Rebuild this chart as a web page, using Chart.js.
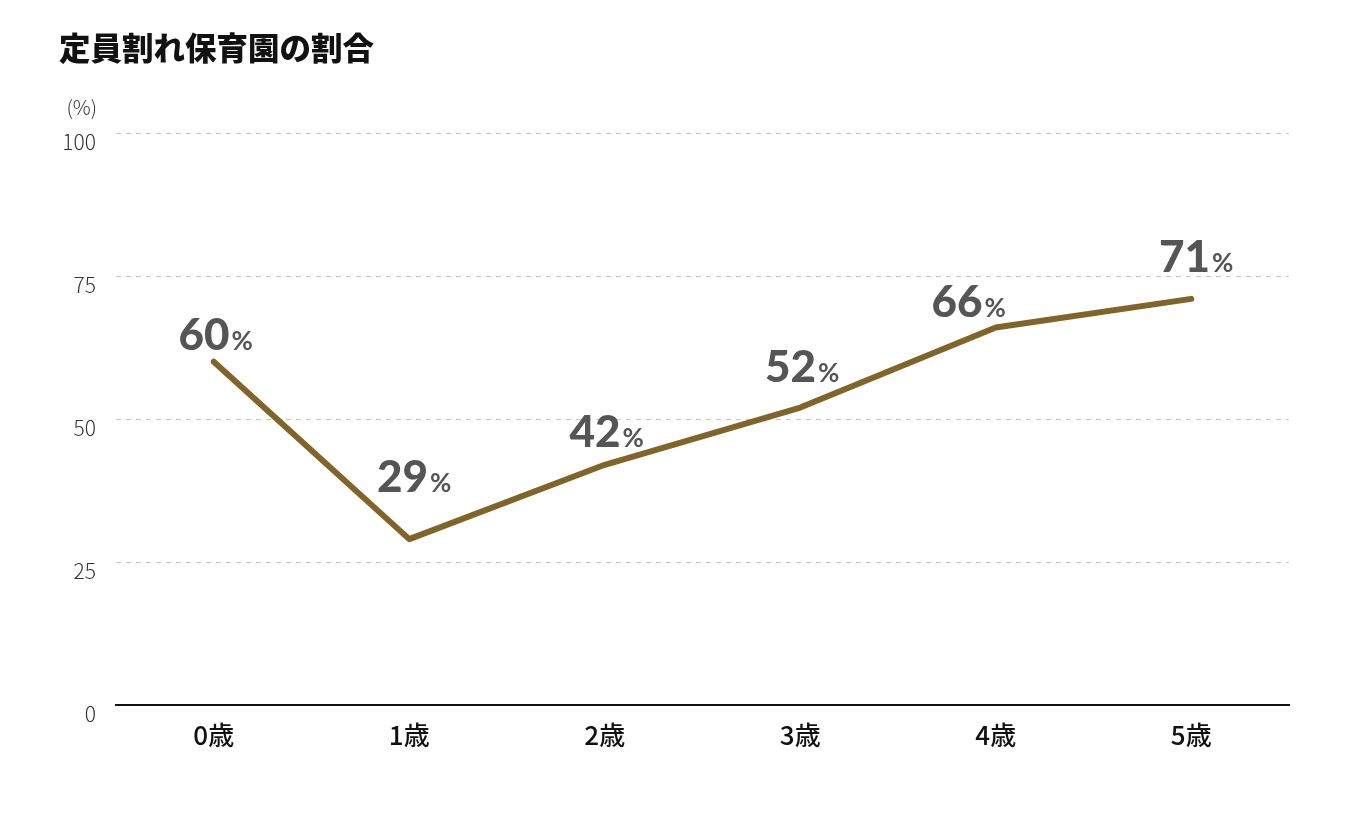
<!DOCTYPE html>
<html lang="ja">
<head>
<meta charset="utf-8">
<script src="https://cdn.jsdelivr.net/npm/chart.js@4"></script>
<style>
  html, body { margin: 0; padding: 0; background: #fff; }
  #wrap { width: 1351px; height: 818px; position: relative; }
</style>
</head>
<body>
<div id="wrap"><canvas id="chart"></canvas></div>
<script>
const title = "定員割れ保育園の割合";
const unitLabel = "(%)";
const ages = ["0歳", "1歳", "2歳", "3歳", "4歳", "5歳"];
const shares = [60, 29, 42, 52, 66, 71];
const yTicks = [0, 25, 50, 75, 100];

// label nudges (px) so the numbers sit where the original has them
const labelDx = [2, 5, 2, 2, -27, 5];
const labelDy = [-12, -47, -18, -26, -10, -27];

const lineColor = "#80642a";

const headerPlugin = {
  id: "header",
  afterDraw(chart) {
    const ctx = chart.ctx;
    const y = chart.scales.y;
    ctx.save();
    ctx.fillStyle = "#111";
    ctx.font = "900 31.5px 'Noto Sans CJK JP'";
    ctx.textAlign = "left";
    ctx.textBaseline = "middle";
    ctx.fillText(title, 59, 48);

    ctx.fillStyle = "#333";
    ctx.font = "300 20px 'Noto Sans CJK JP'";
    ctx.textAlign = "right";
    ctx.fillText(unitLabel, y.right - 19, 107);
    ctx.restore();
  }
};

const valueLabels = {
  id: "valueLabels",
  afterDatasetsDraw(chart) {
    const ctx = chart.ctx;
    const meta = chart.getDatasetMeta(0);
    ctx.save();
    ctx.fillStyle = "#555";
    ctx.textBaseline = "alphabetic";
    ctx.textAlign = "left";
    meta.data.forEach((pt, i) => {
      const num = String(shares[i]);
      ctx.font = "900 44px Lato";
      const wNum = ctx.measureText(num).width;
      ctx.font = "700 26px Lato";
      const wPct = ctx.measureText("%").width;
      const x0 = pt.x + labelDx[i] - (wNum + wPct + 2) / 2;
      const by = pt.y + labelDy[i];
      ctx.font = "900 44px Lato";
      ctx.fillText(num, x0, by);
      ctx.font = "700 26px Lato";
      ctx.fillText("%", x0 + wNum + 2, by);
    });
    ctx.restore();
  }
};

new Chart(document.getElementById("chart"), {
  type: "line",
  data: {
    labels: ages,
    datasets: [{
      data: shares,
      borderColor: lineColor,
      borderWidth: 6,
      pointRadius: 0,
      tension: 0,
      borderCapStyle: "round",
      borderJoinStyle: "round"
    }]
  },
  options: {
    responsive: true,
    maintainAspectRatio: false,
    animation: false,
    layout: { padding: { top: 133, right: 62, bottom: 53, left: 0 } },
    plugins: {
      legend: { display: false },
      tooltip: { enabled: false }
    },
    scales: {
      x: {
        offset: true,
        grid: { display: false, drawTicks: false },
        border: { display: true, color: "#111", width: 2 },
        ticks: {
          padding: 15,
          color: "#111",
          font: { family: "'Noto Sans CJK JP'", size: 26, weight: 500 }
        },
        afterFit(scale) { scale.height = 60; }
      },
      y: {
        min: 0,
        max: 100,
        afterBuildTicks(scale) { scale.ticks = yTicks.map(v => ({ value: v })); },
        grid: {
          drawTicks: false,
          color: ctx => ctx.tick && ctx.tick.value === 0 ? "rgba(0,0,0,0)" : "#c8c8c8",
          lineWidth: 1
        },
        border: { display: false, dash: [5, 5] },
        ticks: {
          padding: 20,
          labelOffset: 9,
          color: "#333",
          font: { family: "'Noto Sans CJK JP'", size: 21, weight: 300 }
        },
        afterFit(scale) { scale.width = 116; }
      }
    }
  },
  plugins: [headerPlugin, valueLabels]
});
</script>
</body>
</html>
